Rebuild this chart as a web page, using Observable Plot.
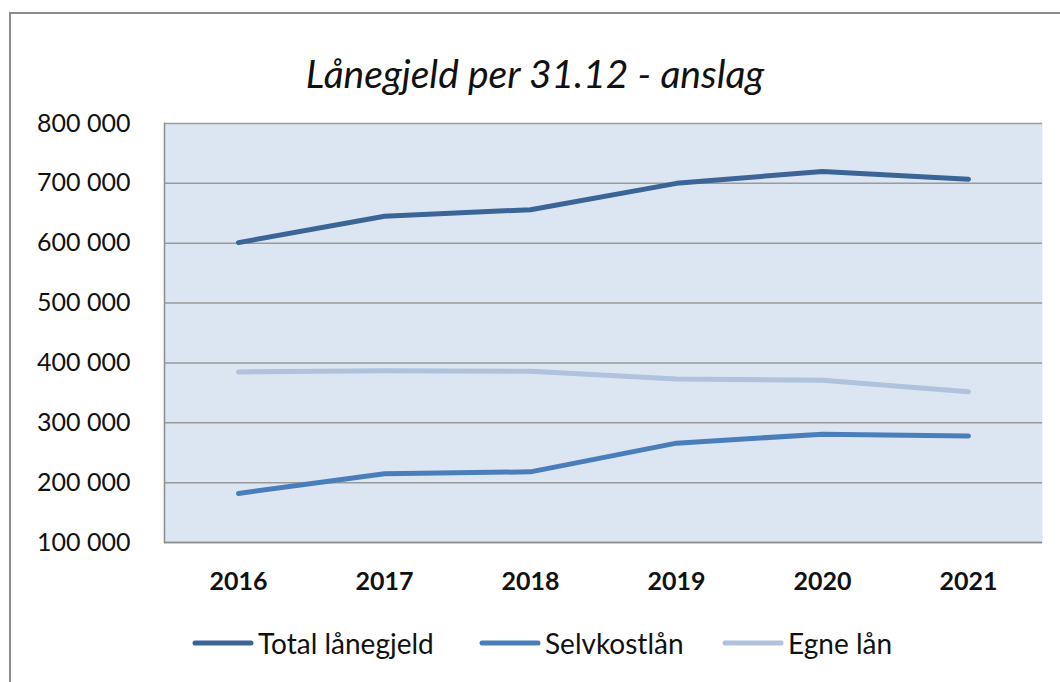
<!DOCTYPE html>
<html>
<head>
<meta charset="utf-8">
<script src="https://cdn.jsdelivr.net/npm/d3@7"></script>
<script src="https://cdn.jsdelivr.net/npm/@observablehq/plot@0.6"></script>
<style>
  html, body { margin: 0; padding: 0; background: #fff; }
  #wrap { position: relative; width: 1060px; height: 682px; overflow: hidden; font-family: Lato, "Open Sans", sans-serif; }
  #border { position: absolute; left: 9px; top: 12px; width: 1200px; height: 800px; border: 2px solid #8c8c8c; box-sizing: border-box; }
  #title { position: absolute; left: 0; width: 1070px; top: 53px; text-align: center; font-style: italic; font-size: 39px; color: #111; line-height: 40px; }
  #chart { position: absolute; left: 0; top: 95px; }
  .leg { position: absolute; top: 627px; font-size: 28px; color: #111; line-height: 32px; display: flex; align-items: center; white-space: nowrap; }
  .leg svg { margin-right: 4px; }
</style>
</head>
<body>
<div id="wrap">
  <div id="border"></div>
  <div id="title">Lånegjeld per 31.12 - anslag</div>
  <div id="chart"></div>
  <div id="legend"></div>
</div>
<script>
const years = ["2016", "2017", "2018", "2019", "2020", "2021"];
const totalLanegjeld = [601000, 645000, 656000, 700000, 720000, 707000];
const selvkostlan = [182000, 215000, 218000, 266000, 281000, 278000];
const egneLan = [385000, 387000, 386000, 373000, 371000, 352000];
const seriesNames = ["Total lånegjeld", "Selvkostlån", "Egne lån"];
const seriesColors = ["#3b6597", "#4a7ebb", "#b0c2dc"];
const yTicks = [100000, 200000, 300000, 400000, 500000, 600000, 700000, 800000];

const seriesValues = [totalLanegjeld, selvkostlan, egneLan];
const data = [];
seriesNames.forEach((name, si) => {
  years.forEach((yr, i) => data.push({series: name, year: yr, value: seriesValues[si][i]}));
});

const fmt = v => d3.format(",")(v).replace(/,/g, " ");

const chart = Plot.plot({
  width: 1060,
  height: 515,
  marginLeft: 164,
  marginRight: 18,
  marginTop: 28,
  marginBottom: 68,
  style: { fontFamily: "Lato, 'Open Sans', sans-serif", background: "transparent", color: "#111" },
  x: { type: "point", domain: years, padding: 0.5, label: null },
  y: { domain: [100000, 800000], label: null },
  color: { domain: seriesNames, range: seriesColors },
  marks: [
    Plot.frame({ fill: "#dce6f2", stroke: null }),
    Plot.gridY(yTicks, { stroke: "#9a9a9a", strokeOpacity: 1, strokeWidth: 1.5 }),
    Plot.frame({ anchor: "left", stroke: "#8c8c8c", strokeWidth: 1.5 }),
    Plot.ruleY([100000], { stroke: "#8c8c8c", strokeWidth: 1.5 }),
    Plot.line(data, { x: "year", y: "value", z: "series", stroke: "series", strokeWidth: 5, strokeLinecap: "round", strokeLinejoin: "round" }),
    Plot.axisY(yTicks, { tickSize: 0, tickPadding: 34, fontSize: 25, tickFormat: fmt, label: null }),
    Plot.axisX({ tickSize: 0, tickPadding: 30, fontSize: 25, fontWeight: "bold", label: null })
  ]
});
document.getElementById("chart").appendChild(chart);

// legend
const legLefts = [192, 479, 722];
const legend = document.getElementById("legend");
seriesNames.forEach((name, i) => {
  const item = document.createElement("div");
  item.className = "leg";
  item.style.left = legLefts[i] + "px";
  item.innerHTML = `<svg width="62" height="10"><line x1="3" y1="5" x2="59" y2="5" stroke="${seriesColors[i]}" stroke-width="5" stroke-linecap="round"/></svg><span>${name}</span>`;
  legend.appendChild(item);
});
</script>
</body>
</html>
